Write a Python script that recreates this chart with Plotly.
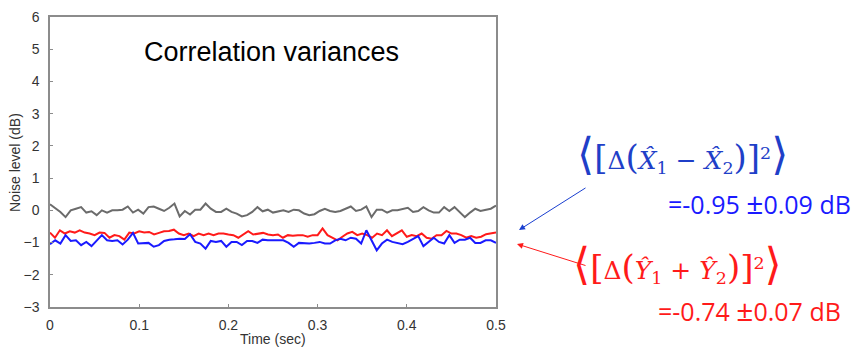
import numpy as np
import plotly.graph_objects as go

gray_vals = [0.19, 0.08, -0.05, -0.21, 0.0, 0.05, 0.10, -0.07, -0.03, -0.15, 0.0, -0.07, 0.0, 0.0, 0.02,
             0.12, -0.07, 0.02, -0.10, 0.10, 0.12, 0.05, -0.02, 0.08, 0.21, -0.19, -0.02, -0.13, 0.02, 0.02,
             0.21, 0.05, -0.05, -0.05, 0.05, -0.05, -0.10, -0.19, -0.15, -0.05, 0.10, -0.03, 0.02, -0.07, -0.03,
             0.0, -0.05, 0.02, 0.0, -0.10, -0.15, -0.12, -0.02, 0.05, -0.02, -0.05, -0.02, 0.05, 0.12, -0.02,
             0.02, 0.12, -0.21, 0.02, 0.02, -0.07, 0.0, 0.0, 0.05, 0.08, -0.05, -0.02, 0.10, 0.0, -0.07,
             -0.07, 0.10, -0.02, 0.10, -0.05, -0.21, -0.07, 0.05, -0.02, 0.02, 0.05, 0.15]

red_vals = [-0.69, -0.85, -0.62, -0.72, -0.65, -0.69, -0.62, -0.69, -0.72, -0.77, -0.69, -0.70, -0.85, -0.77,
            -0.80, -0.91, -0.69, -0.72, -0.65, -0.69, -0.67, -0.75, -0.70, -0.65, -0.64, -0.60, -0.72, -0.77,
            -0.72, -0.80, -0.72, -0.77, -0.72, -0.77, -0.72, -0.72, -0.75, -0.77, -0.85, -0.75, -0.65, -0.75,
            -0.72, -0.70, -0.75, -0.77, -0.75, -0.85, -0.77, -0.79, -0.77, -0.77, -0.82, -0.77, -0.77, -0.56,
            -0.77, -0.86, -0.93, -0.82, -0.72, -0.67, -0.77, -0.72, -0.77, -0.85, -0.72, -0.77, -0.62, -0.80,
            -0.72, -0.62, -0.82, -0.77, -0.80, -0.72, -0.85, -0.88, -0.77, -0.77, -0.64, -0.72, -0.72, -0.77,
            -0.85, -0.80, -0.85, -0.82, -0.74, -0.72, -0.69]

blue_vals = [-1.05, -0.93, -1.03, -0.77, -0.95, -0.93, -1.08, -0.98, -1.11, -0.93, -0.77, -0.93, -0.95, -0.93,
             -1.06, -0.91, -0.70, -1.03, -1.01, -1.01, -1.13, -1.08, -0.95, -0.91, -0.90, -0.88, -0.89, -0.74,
             -0.98, -1.03, -1.19, -0.95, -0.98, -0.95, -1.13, -0.98, -0.98, -1.08, -0.95, -0.95, -1.01, -0.91,
             -0.93, -0.93, -0.95, -0.93, -1.01, -1.13, -1.01, -1.03, -1.03, -1.01, -0.98, -1.03, -1.03, -0.93,
             -0.88, -0.93, -0.85, -0.88, -1.03, -0.62, -0.93, -1.24, -1.03, -0.91, -0.98, -1.01, -1.05, -0.98,
             -0.89, -0.80, -1.11, -0.98, -0.85, -0.98, -1.03, -0.77, -1.01, -0.91, -0.91, -0.85, -1.01, -1.01,
             -0.93, -0.93, -1.01]

x_ticks = [0, 0.1, 0.2, 0.3, 0.4, 0.5]
x_tick_labels = ["0", "0.1", "0.2", "0.3", "0.4", "0.5"]
y_ticks = [-3, -2, -1, 0, 1, 2, 3, 4, 5, 6]

title_text = "Correlation variances"
x_title = "Time (sec)"
y_title = "Noise level (dB)"

GRAY = "#6b6b6b"
RED = "#ff1a1a"
BLUE = "#1a1aff"
TXT = "#333333"


def times(vals):
    return np.linspace(0, 0.5, len(vals))


fig = go.Figure()
fig.add_trace(go.Scatter(x=times(gray_vals), y=gray_vals, mode="lines",
                         line=dict(color=GRAY, width=2), showlegend=False))
fig.add_trace(go.Scatter(x=times(red_vals), y=red_vals, mode="lines",
                         line=dict(color=RED, width=2), showlegend=False))
fig.add_trace(go.Scatter(x=times(blue_vals), y=blue_vals, mode="lines",
                         line=dict(color=BLUE, width=2), showlegend=False))

axis_common = dict(showgrid=False, zeroline=False, showline=True, linecolor="#8c8c8c",
                   linewidth=1.5, mirror=True, ticks="inside", ticklen=3, tickcolor="#8c8c8c",
                   automargin=False,
                   tickfont=dict(family="Liberation Sans, Arial", size=14, color=TXT))

fig.update_xaxes(range=[0, 0.5], tickvals=x_ticks, ticktext=x_tick_labels, ticklabelstandoff=4,
                 **axis_common)
fig.update_yaxes(range=[-3, 6], tickvals=y_ticks, ticklabelstandoff=6, **axis_common)

ANG = 'style="font-size:44px;font-family:\'DejaVu Sans\'"'
BR = 'style="font-size:34px"'


def formula(letter, op):
    return (f'<span {ANG}>\u27e8</span><span {BR}>[</span>\u0394<span {BR}>(</span>'
            f'<i>{letter}\u0302</i><sub>1</sub> {op} <i>{letter}\u0302</i><sub>2</sub>'
            f'<span {BR}>)]</span><sup>2</sup><span {ANG}>\u27e9</span>')


blue_formula = formula("X", "\u2212")
red_formula = formula("Y", "+")

PM = '<span style="font-size:30px">\u00b1</span>'
blue_result = f"=-0.95 {PM}0.09 dB"
red_result = f"=-0.74 {PM}0.07 dB"

annotations = [
    dict(text=title_text, xref="paper", yref="paper", x=(271 - 50) / 446, y=(307 - 52) / 290,
         showarrow=False, font=dict(family="Liberation Sans, Arial", size=27, color="black"),
         xanchor="center", yanchor="middle"),
    dict(text=x_title, xref="paper", yref="paper", x=(273 - 50) / 446, y=(307 - 339) / 290,
         showarrow=False, font=dict(family="Liberation Sans, Arial", size=14, color=TXT),
         xanchor="center", yanchor="middle"),
    dict(text=y_title, xref="paper", yref="paper", x=(15 - 50) / 446, y=(307 - 163) / 290,
         showarrow=False, textangle=-90,
         font=dict(family="Liberation Sans, Arial", size=14, color=TXT),
         xanchor="center", yanchor="middle"),
    dict(text=blue_formula, xref="paper", yref="paper", x=(682 - 50) / 446, y=(307 - 154) / 290,
         showarrow=False, font=dict(family="DejaVu Serif", size=25, color="#1f3fc8"),
         xanchor="center", yanchor="middle"),
    dict(text=red_formula, xref="paper", yref="paper", x=(677 - 50) / 446, y=(307 - 263) / 290,
         showarrow=False, font=dict(family="DejaVu Serif", size=25, color="#ff1a1a"),
         xanchor="center", yanchor="middle"),
    dict(text=blue_result, xref="paper", yref="paper", x=(759 - 50) / 446, y=(307 - 203) / 290,
         showarrow=False, font=dict(family="Open Sans", size=25, color="#1a1aff"),
         xanchor="center", yanchor="middle"),
    dict(text=red_result, xref="paper", yref="paper", x=(749 - 50) / 446, y=(307 - 309) / 290,
         showarrow=False, font=dict(family="Open Sans", size=25, color="#ff1a1a"),
         xanchor="center", yanchor="middle"),
    dict(text="", xref="paper", yref="paper", x=(519 - 50) / 446, y=(307 - 230) / 290,
         ax=68, ay=-43, showarrow=True, arrowhead=2, arrowsize=1.2, arrowwidth=1,
         arrowcolor="#1a3fd0"),
    dict(text="", xref="paper", yref="paper", x=(517 - 50) / 446, y=(307 - 244) / 290,
         ax=70, ay=22, showarrow=True, arrowhead=2, arrowsize=1.2, arrowwidth=1,
         arrowcolor="#ff1a1a"),
]

fig.update_layout(width=856, height=347, margin=dict(l=50, r=360, t=17, b=40),
                  paper_bgcolor="white", plot_bgcolor="white", annotations=annotations)

fig.write_html("out.html")
